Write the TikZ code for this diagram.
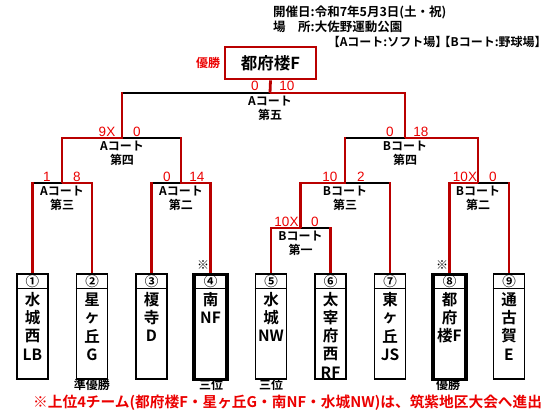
\documentclass[tikz,border=0pt]{standalone}
\usepackage{fontspec}
\setmainfont{Noto Sans CJK JP}[BoldFont={Noto Sans CJK JP Bold}]
\newfontfamily\scorefont{Liberation Sans}
\usetikzlibrary{calc}
\pgfdeclarelayer{bg}
\pgfsetlayers{bg,main}
\definecolor{bred}{RGB}{185,0,0}
\definecolor{tred}{RGB}{235,0,0}
\newcommand\lbk{\makebox[0.55em][r]{【}}
\newcommand\rbk{\makebox[0.55em][l]{】}}
\newcommand\teamnode[5]{%
  \node[#3] (t#1) at (#2,273) {};
  \draw[line width=1.3pt] ($(t#1.north west)+(0,15.5)$) -- ($(t#1.north east)+(0,15.5)$);
  \node[circnum] (n#1) at (#2,281) {#4};
  \foreach \c [count=\i] in {#5} \node[boxch] (c#1-\i) at (#2,{281.5+18.2*\i}) {\c};
}
\newcommand\winL[3]{%
  \draw[blkln] (#1) -- (#3 |- #1);
  \draw[redln,line cap=rect] (#3) -- (#3 |- #1);
  \draw[redln] (#2) -- (#2 |- #1) -- (#1);
}
\newcommand\winR[3]{%
  \draw[blkln] (#1) -- (#2 |- #1);
  \draw[redln,line cap=rect] (#2) -- (#2 |- #1);
  \draw[redln] (#3) -- (#3 |- #1) -- (#1);
}
\begin{document}
\begin{tikzpicture}[x=1pt,y=-1pt,
  redln/.style={draw=bred,line width=2.8pt},
  blkln/.style={draw=black,line width=1.4pt},
  teambox/.style={draw=black,line width=1.6pt,minimum width=31pt,minimum height=105pt,inner sep=0,anchor=north},
  thickbox/.style={teambox,line width=3.2pt,minimum width=33pt},
  boxch/.style={font=\bfseries\fontsize{15.5}{15.5}\selectfont,inner sep=0},
  circnum/.style={font=\bfseries\fontsize{13.5}{13.5}\selectfont,inner sep=0},
  score/.style={font=\scorefont\fontsize{13.5}{13.5}\selectfont,text=tred,inner sep=0,anchor=base},
  court/.style={font=\bfseries\fontsize{12}{14}\selectfont,align=center,inner sep=0,anchor=north},
  place/.style={font=\bfseries\fontsize{12}{12}\selectfont,inner sep=0},
  hdr/.style={font=\bfseries\fontsize{12.5}{12.5}\selectfont,inner sep=0,anchor=west},
]
\useasboundingbox (0,0) rectangle (550,415);

% header
\node[hdr] (h1) at (273,12) {開催日:令和7年5月3日(土・祝)};
\node[hdr] (h2) at (273,27) {\makebox[3em][s]{場\hfill 所}:大佐野運動公園};
\node[hdr,font=\bfseries\fontsize{12}{12}\selectfont] (h3) at (333,42) {\lbk Aコート:ソフト場\rbk\,\lbk Bコート:野球場\rbk};

% champion
\node[draw=bred,line width=2.8pt,minimum width=91pt,minimum height=32pt,inner sep=0,
      font=\bfseries\fontsize{16.5}{16.5}\selectfont] (final) at (270.5,63) {都府楼F};
\node[font=\bfseries\fontsize{12}{12}\selectfont,text=tred,inner sep=0] (winlbl) at (208,63) {優勝};

% teams
\teamnode{1}{32.5}{teambox}{①}{水,城,西,LB}
\teamnode{2}{92}{teambox}{②}{星,ヶ,丘,G}
\teamnode{3}{151.5}{teambox}{③}{榎,寺,D}
\teamnode{4}{210.5}{thickbox}{④}{南,NF}
\teamnode{5}{271}{teambox}{⑤}{水,城,NW}
\teamnode{6}{330.5}{teambox}{⑥}{太,宰,府,西,RF}
\teamnode{7}{390}{teambox}{⑦}{東,ヶ,丘,JS}
\teamnode{8}{449.5}{thickbox}{⑧}{都,府,楼F}
\teamnode{9}{509}{teambox}{⑨}{通,古,賀,E}

% junctions
\coordinate (A3) at (62,183);
\coordinate (A2) at (181,183);
\coordinate (A4) at (122,138);
\coordinate (B1) at (300.5,228);
\coordinate (B3) at (345,183);
\coordinate (B2) at (478,183);
\coordinate (B4) at (405,138);
\coordinate (F) at (270,93);

\begin{pgfonlayer}{bg}
\winR{A3}{t1.north}{t2.north}
\winR{A2}{t3.north}{t4.north}
\winL{A4}{A3}{A2}
\winL{B1}{t5.north}{t6.north}
\winL{B3}{B1}{t7.north}
\winL{B2}{t8.north}{t9.north}
\winR{B4}{B3}{B2}
\winR{F}{A4}{B4}
\draw[redln] (F) -- (final.south);
\end{pgfonlayer}

% scores
\node[score] (sF1) at (255,90.5) {0};
\node[score] (sF2) at (287,90.5) {10};
\node[score] (sA41) at (107,136) {9X};
\node[score] (sA42) at (137,136) {0};
\node[score] (sA31) at (47,181) {1};
\node[score] (sA32) at (77,181) {8};
\node[score] (sA21) at (167,181) {0};
\node[score] (sA22) at (197,181) {14};
\node[score] (sB41) at (390,136) {0};
\node[score] (sB42) at (421,136) {18};
\node[score] (sB31) at (330,181) {10};
\node[score] (sB32) at (361,181) {2};
\node[score] (sB21) at (465,181) {10X};
\node[score] (sB22) at (493,181) {0};
\node[score] (sB11) at (286.5,226) {10X};
\node[score] (sB12) at (315,226) {0};

% court labels
\node[court] (lF) at (270,96) {Aコート\\第五};
\node[court] (lA4) at (122,141) {Aコート\\第四};
\node[court] (lA3) at (62,186) {Aコート\\第三};
\node[court] (lA2) at (181,186) {Aコート\\第二};
\node[court] (lB4) at (405,141) {Bコート\\第四};
\node[court] (lB3) at (345,186) {Bコート\\第三};
\node[court] (lB2) at (478,186) {Bコート\\第二};
\node[court] (lB1) at (300.5,231) {Bコート\\第一};

% marks and places
\node[place] (m4) at (203,265) {※};
\node[place] (m8) at (442,265) {※};
\node[place] (p2) at (92,385) {準優勝};
\node[place] (p4) at (211,385) {三位};
\node[place] (p5) at (271,385) {三位};
\node[place] (p8) at (448,385) {優勝};

% note
\node[font=\bfseries\fontsize{14.7}{14.7}\selectfont,text=tred,anchor=west,inner sep=0] (note) at (33,403)
  {※上位4チーム(都府楼F・星ヶ丘G・南NF・水城NW)は、筑紫地区大会へ進出};
\end{tikzpicture}
\end{document}
